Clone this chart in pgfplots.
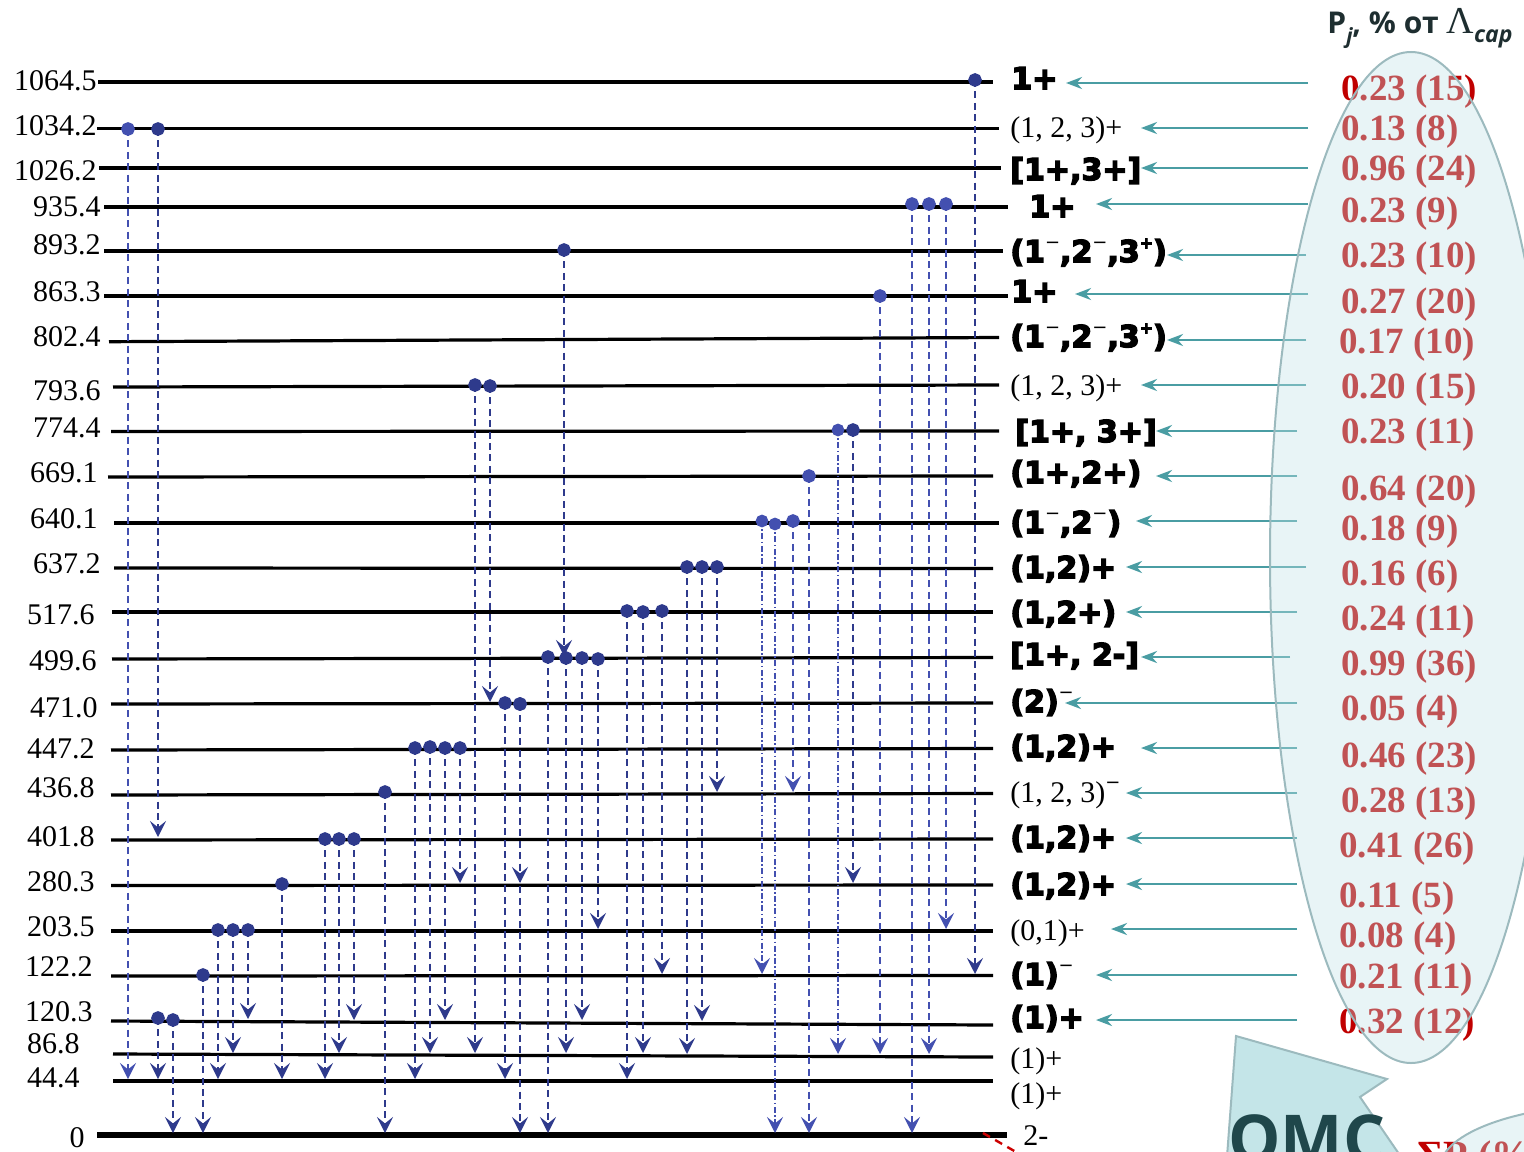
\documentclass[border=0pt]{standalone}
\usepackage{fontspec}
\setmainfont{Liberation Serif}
\newfontfamily\heavy{DejaVu Sans Bold}[FakeBold=5]
\newfontfamily\dvs{DejaVu Sans}
\newfontfamily\osans{Open Sans}
\usepackage{pgfplots}
\pgfplotsset{compat=1.18}
\usetikzlibrary{arrows.meta}
\definecolor{navy}{HTML}{2E3A8C}
\definecolor{lblue}{HTML}{4350B0}
\definecolor{tealc}{HTML}{4A9DA3}
\definecolor{redv}{HTML}{C00000}
\definecolor{ellfill}{HTML}{C1E1E6}
\definecolor{ellline}{HTML}{9CBABE}
\definecolor{omcfill}{HTML}{C4E5E8}
\definecolor{omctext}{HTML}{1F474B}
\definecolor{titlec}{HTML}{1E2E30}
\newcommand{\lvl}[3]{\node[anchor=base east, inner sep=0pt, font=\fontsize{15}{15}\selectfont] at (axis cs:#1,#2) {#3};}
\newcommand{\hvl}[3]{\node[anchor=base west, inner sep=0pt, font=\heavy\fontsize{15}{15}\selectfont] at (axis cs:#1,#2) {#3};}
\newcommand{\svl}[3]{\node[anchor=base west, inner sep=0pt, font=\fontsize{15}{15}\selectfont] at (axis cs:#1,#2) {#3};}
\newcommand{\pv}[3]{\node[anchor=base west, inner sep=0pt, text=redv, font=\bfseries\fontsize{18.5}{18.5}\selectfont] at (axis cs:#1,#2) {#3};}
\newcommand{\smi}{\raisebox{0.45em}{\dvs\fontsize{9}{9}\selectfont −}}
\newcommand{\spl}{\raisebox{0.45em}{\fontsize{8}{8}\selectfont +}}
\begin{document}
\begin{tikzpicture}
\useasboundingbox (0,0) rectangle (762pt,575.5pt);
\begin{axis}[scale only axis, width=762pt, height=575.5pt,
  xmin=0, xmax=1524, ymin=0, ymax=1151, y dir=reverse,
  hide axis, clip=true,
  lev/.style={black, line width=1.6pt},
  tr/.style={#1, line width=1.25pt, dash pattern=on 3.5pt off 2.2pt,
     -{Stealth[length=8pt,width=8pt,inset=3.2pt]},
     mark=*, mark size=2.8pt, mark indices={1},
     mark options={solid, fill=#1, draw=#1}},
  tr/.default=navy,
  trt/.style={lblue, line width=0.75pt, dash pattern=on 3pt off 1.2pt on 0.8pt off 1.2pt,
     -{Stealth[length=8pt,width=8pt,inset=3.2pt]},
     mark=*, mark size=2.8pt, mark indices={1},
     mark options={solid, fill=lblue, draw=lblue}},
  ta/.style={tealc, line width=1.3pt, -{Stealth[length=8pt,width=6pt]}},
]
% ---------- levels ----------
\addplot[lev] coordinates {(98,82) (993,82)};
\addplot[lev] coordinates {(97,128.7) (999,128.7)};
\addplot[lev] coordinates {(99,168) (1001,168)};
\addplot[lev] coordinates {(104,207) (1008,207)};
\addplot[lev] coordinates {(104,251) (1003,251)};
\addplot[lev] coordinates {(104,296) (1008,296)};
\addplot[lev] coordinates {(109,341.7) (999,337.5)};
\addplot[lev] coordinates {(113,387) (999,385)};
\addplot[lev] coordinates {(111,431.5) (999,431)};
\addplot[lev] coordinates {(108,477) (993,476)};
\addplot[lev] coordinates {(114,523) (999,523)};
\addplot[lev] coordinates {(114,568) (993,568.5)};
\addplot[lev] coordinates {(112,612) (993,612)};
\addplot[lev] coordinates {(112,659) (993,657.5)};
\addplot[lev] coordinates {(111,704) (993,703)};
\addplot[lev] coordinates {(111,750) (993,748.5)};
\addplot[lev] coordinates {(111,795) (993,793.5)};
\addplot[lev] coordinates {(111,840) (993,839)};
\addplot[lev] coordinates {(111,885.5) (993,885)};
\addplot[lev] coordinates {(111,931) (993,931)};
\addplot[lev] coordinates {(111,976) (993,975.5)};
\addplot[lev] coordinates {(111,1021) (993,1025)};
\addplot[lev] coordinates {(113,1054) (993,1057)};
\addplot[lev] coordinates {(113,1081) (993,1081)};
\addplot[black, line width=2.8pt] coordinates {(97,1135) (1007,1135)};
% ---------- transitions ----------
\addplot[tr=lblue] coordinates {(128,129) (128,1079)};
\addplot[tr] coordinates {(158,129) (158,837)};
\addplot[tr] coordinates {(158,1018) (158,1079)};
\addplot[tr] coordinates {(173,1020) (173,1133)};
\addplot[tr] coordinates {(203,975) (203,1133)};
\addplot[tr] coordinates {(218,930) (218,1079)};
\addplot[tr] coordinates {(233,930) (233,1053)};
\addplot[tr] coordinates {(248,930) (248,1019)};
\addplot[tr] coordinates {(282,884) (282,1079)};
\addplot[tr] coordinates {(325,839) (325,1079)};
\addplot[tr] coordinates {(339,839) (339,1053)};
\addplot[tr] coordinates {(354,839) (354,1020)};
\addplot[tr] coordinates {(385,792) (385,1133)};
\addplot[tr] coordinates {(415,748) (415,1079)};
\addplot[tr] coordinates {(430,747) (430,1053)};
\addplot[tr] coordinates {(445,748) (445,1020)};
\addplot[tr] coordinates {(460,748) (460,883)};
\addplot[tr] coordinates {(475,385) (475,1053)};
\addplot[tr] coordinates {(490,386) (490,702)};
\addplot[tr] coordinates {(505,703) (505,1079)};
\addplot[tr] coordinates {(520,704) (520,883)};
\addplot[tr] coordinates {(520,704) (520,1133)};
\addplot[tr] coordinates {(548,657) (548,1133)};
\addplot[tr] coordinates {(564,250) (564,656)};
\addplot[tr] coordinates {(566,658) (566,1053)};
\addplot[tr] coordinates {(582,658) (582,1020)};
\addplot[tr] coordinates {(598,659) (598,929)};
\addplot[tr] coordinates {(627,611) (627,1079)};
\addplot[tr] coordinates {(643,612) (643,1053)};
\addplot[tr] coordinates {(662,611) (662,974)};
\addplot[tr] coordinates {(687,567) (687,1054)};
\addplot[tr] coordinates {(702,567) (702,1021)};
\addplot[tr] coordinates {(717,567) (717,792)};
\addplot[trt] coordinates {(762,521) (762,974)};
\addplot[trt] coordinates {(775,524) (775,1133)};
\addplot[tr=lblue] coordinates {(793,521) (793,792)};
\addplot[tr=lblue] coordinates {(809,476) (809,1133)};
\addplot[trt] coordinates {(838,430) (838,1054)};
\addplot[tr] coordinates {(853,430) (853,883)};
\addplot[tr=lblue] coordinates {(880,296) (880,1054)};
\addplot[tr=lblue] coordinates {(912,204) (912,1133)};
\addplot[tr=lblue] coordinates {(929,204) (929,1054)};
\addplot[tr=lblue] coordinates {(946,204) (946,929)};
\addplot[tr] coordinates {(975,80) (975,974)};
% ---------- red dashed fragment ----------
\addplot[red!80!black, line width=1.2pt, dash pattern=on 4pt off 3pt] coordinates {(983,1133) (1030,1160)};
% ---------- left energy labels ----------
\lvl{97}{90}{1064.5}
\lvl{97}{135}{1034.2}
\lvl{97}{180}{1026.2}
\lvl{101}{216}{935.4}
\lvl{101}{254}{893.2}
\lvl{101}{301}{863.3}
\lvl{101}{346}{802.4}
\lvl{101}{400}{793.6}
\lvl{101}{437}{774.4}
\lvl{98}{482}{669.1}
\lvl{98}{528}{640.1}
\lvl{101}{573}{637.2}
\lvl{95}{624}{517.6}
\lvl{97}{670}{499.6}
\lvl{98}{717}{471.0}
\lvl{95}{758}{447.2}
\lvl{95}{797}{436.8}
\lvl{95}{846}{401.8}
\lvl{95}{891}{280.3}
\lvl{95}{936}{203.5}
\lvl{93}{976}{122.2}
\lvl{93}{1021}{120.3}
\lvl{80}{1053}{86.8}
\lvl{80}{1087}{44.4}
\lvl{85}{1147}{0}
% ---------- right spin labels ----------
\hvl{1011}{89}{1+}
\svl{1010}{137}{(1, 2, 3)+}
\hvl{1010}{180}{[1+,3+]}
\hvl{1029}{217}{1+}
\hvl{1010}{262}{(1\smi,2\smi,3\spl)}
\hvl{1011}{302}{1+}
\hvl{1010}{347}{(1\smi,2\smi,3\spl)}
\svl{1010}{395}{(1, 2, 3)+}
\hvl{1015}{442}{[1+, 3+]}
\hvl{1010}{483}{(1+,2+)}
\hvl{1010}{533}{(1\smi,2\smi)}
\hvl{1010}{578}{(1,2)+}
\hvl{1010}{623}{(1,2+)}
\hvl{1010}{665}{[1+, 2-]}
\hvl{1010}{712}{(2)\smi}
\hvl{1010}{757}{(1,2)+}
\svl{1010}{802}{(1, 2, 3)\smi}
\hvl{1010}{848}{(1,2)+}
\hvl{1010}{895}{(1,2)+}
\svl{1010}{940}{(0,1)+}
\hvl{1010}{985}{(1)\smi}
\hvl{1010}{1028}{(1)+}
\svl{1010}{1068}{(1)+}
\svl{1010}{1103}{(1)+}
\svl{1023}{1145}{2-}
% ---------- teal arrows ----------
\addplot[ta] coordinates {(1308,83) (1066,83)};
\addplot[ta] coordinates {(1308,128) (1141,128)};
\addplot[ta] coordinates {(1308,168) (1141,168)};
\addplot[ta] coordinates {(1308,204) (1096,204)};
\addplot[ta] coordinates {(1306,255) (1167,255)};
\addplot[ta] coordinates {(1308,294) (1075,294)};
\addplot[ta] coordinates {(1306,340) (1167,340)};
\addplot[ta] coordinates {(1306,385) (1141,385)};
\addplot[ta] coordinates {(1297,431) (1156,431)};
\addplot[ta] coordinates {(1297,476) (1156,476)};
\addplot[ta] coordinates {(1297,521) (1136,521)};
\addplot[ta] coordinates {(1306,567) (1126,567)};
\addplot[ta] coordinates {(1297,612) (1126,612)};
\addplot[ta] coordinates {(1290,657) (1141,657)};
\addplot[ta] coordinates {(1297,703) (1065,703)};
\addplot[ta] coordinates {(1297,748) (1141,748)};
\addplot[ta] coordinates {(1297,793) (1126,793)};
\addplot[ta] coordinates {(1297,838) (1126,838)};
\addplot[ta] coordinates {(1297,884) (1126,884)};
\addplot[ta] coordinates {(1297,929) (1111,929)};
\addplot[ta] coordinates {(1297,975) (1096,975)};
\addplot[ta] coordinates {(1297,1020) (1096,1020)};
% ---------- probabilities ----------
\pv{1341}{100}{0.23 (15)}
\pv{1341}{140}{0.13 (8)}
\pv{1341}{180}{0.96 (24)}
\pv{1341}{222}{0.23 (9)}
\pv{1341}{267}{0.23 (10)}
\pv{1341}{313}{0.27 (20)}
\pv{1339}{353}{0.17 (10)}
\pv{1341}{398}{0.20 (15)}
\pv{1341}{443}{0.23 (11)}
\pv{1341}{500}{0.64 (20)}
\pv{1341}{540}{0.18 (9)}
\pv{1341}{585}{0.16 (6)}
\pv{1341}{630}{0.24 (11)}
\pv{1341}{675}{0.99 (36)}
\pv{1341}{720}{0.05 (4)}
\pv{1341}{767}{0.46 (23)}
\pv{1341}{812}{0.28 (13)}
\pv{1339}{857}{0.41 (26)}
\pv{1339}{907}{0.11 (5)}
\pv{1339}{947}{0.08 (4)}
\pv{1339}{988}{0.21 (11)}
\pv{1339}{1033}{0.32 (12)}
\draw[ellline, line width=1pt, fill=ellfill, fill opacity=0.37] (axis cs:1411,557.5) ellipse [x radius=70.5pt, y radius=252.75pt];
% ---------- title ----------
\node[anchor=base west, inner sep=0pt, text=titlec, font=\osans\bfseries\fontsize{15}{16}\selectfont] at (axis cs:1327,33)
  {P\raisebox{-0.35em}{\fontsize{10.5}{10.5}\selectfont\itshape j}, \% от {\rmfamily\mdseries\fontsize{19}{19}\selectfont Λ}\raisebox{-0.3em}{\fontsize{11.5}{11.5}\selectfont\itshape cap}};
% ---------- OMC callout ----------
\draw[fill=omcfill, draw=ellline, line width=1pt] (axis cs:1236,1036) -- (axis cs:1387,1079) -- (axis cs:1360,1097) -- (axis cs:1410,1170) -- (axis cs:1226,1170) -- cycle;
\node[anchor=base west, inner sep=0pt, text=omctext, font=\osans\bfseries\fontsize{33}{33}\selectfont] at (axis cs:1228,1162) {OMC};
\node[anchor=base west, inner sep=0pt, text=redv, font=\bfseries\fontsize{20}{20}\selectfont] at (axis cs:1417,1168) {ΣP (\%)};
\draw[ellline, line width=1pt, fill=ellfill, fill opacity=0.37] (axis cs:1620,1168) ellipse [x radius=90pt, y radius=32pt];
\end{axis}
\end{tikzpicture}
\end{document}
